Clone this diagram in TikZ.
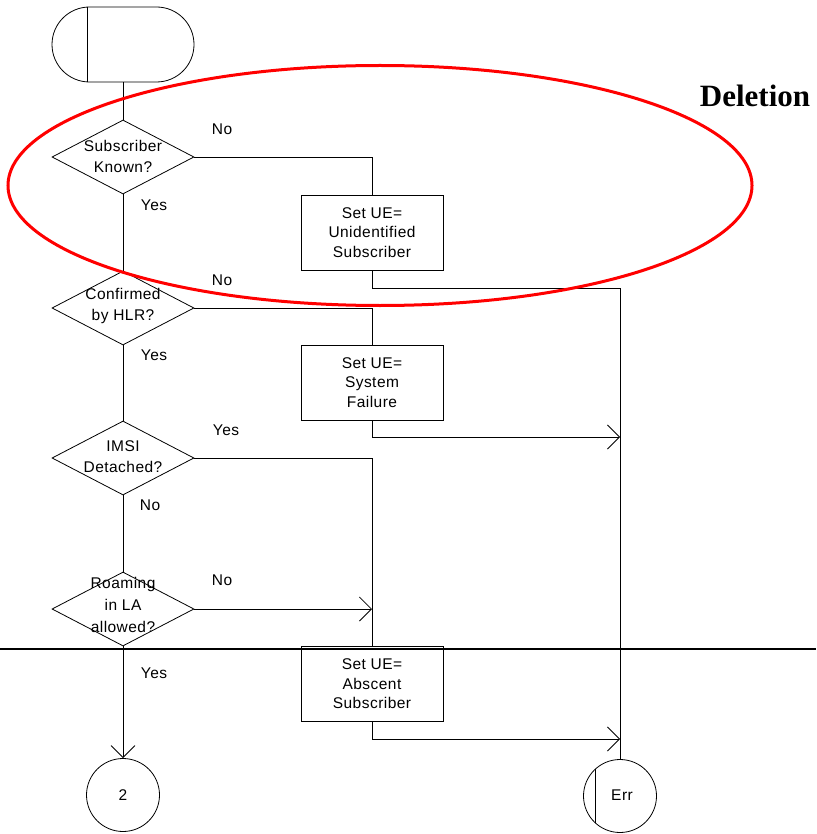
\documentclass[tikz,border=0pt]{standalone}
\usepackage{fontspec}
\setmainfont{Liberation Sans}[LetterSpace=3]
\newfontfamily\serifbold{Liberation Serif}
\usetikzlibrary{shapes.geometric,arrows.meta,calc}
\begin{document}
\begin{tikzpicture}[x=1pt,y=-1pt,
  line width=0.8pt,
  every node/.style={font=\fontsize{15.5}{20}\selectfont},
  dec/.style={draw, diamond, minimum width=142pt, minimum height=74pt, inner sep=0pt},
  dectext/.style={align=center, inner sep=0pt, font=\fontsize{15.5}{21}\selectfont},
  actbox/.style={draw, rectangle, minimum width=142pt, minimum height=75pt, inner sep=0pt, align=center, font=\fontsize{15.5}{19.5}\selectfont},
  conn/.style={draw, circle, minimum size=73pt, inner sep=0pt},
  lbl/.style={inner sep=0pt},
  arr/.style={-{Straight Barb[length=12pt,width=24pt,line width=0.8pt]}}
]
\useasboundingbox (0,0) rectangle (816,834);
% start terminator
\node[draw, rounded corners=37.5pt, minimum width=142pt, minimum height=75pt, inner sep=0pt] (start) at (123,44.5) {};
\draw ($(start.north west)+(36,0)$) -- ($(start.south west)+(36,0)$);
% decisions
\node[dec] (d1) at (123,157) {};
\node[dectext] (d1t) at (123,156) {Subscriber\\Known?};
\node[dec] (d2) at (123,308) {};
\node[dectext] (d2t) at (123,306) {Confirmed\\by HLR?};
\node[dec] (d3) at (123,458) {};
\node[dectext] (d3t) at (123,457) {IMSI\\Detached?};
\node[dec] (d4) at (123,609) {};
\node[dectext, font=\fontsize{15.5}{22}\selectfont] (d4t) at (123,605) {Roaming\\in LA\\allowed?};
% boxes
\node[actbox] (b1) at (372,232.5) {Set UE=\\Unidentified\\Subscriber};
\node[actbox] (b2) at (372,382.5) {Set UE=\\System\\Failure};
\node[actbox] (b3) at (372,684) {Set UE=\\Abscent\\Subscriber};
% connectors
\node[conn] (c2) at (123,795) {2};
\node[conn] (err) at (620,796) {};
\node[lbl] (errt) at (622,795) {Err};
\draw ($(err.center)+(-25,-27.3)$) -- ($(err.center)+(-25,27.3)$);
% coordinates
\coordinate (j1) at (620,288);
\coordinate (j2) at (620,437);
\coordinate (j3) at (620,739);
\coordinate (h1) at (0,649);
\coordinate (h2) at (816,649);
% flow lines
\draw (start.south) -- (d1.north);
\draw (d1.south) -- (d2.north);
\draw (d2.south) -- (d3.north);
\draw (d3.south) -- (d4.north);
\draw[arr] (d4.south) -- (c2.north);
\draw (d1.east) -| (b1.north);
\draw (d2.east) -| (b2.north);
\draw (d3.east) -| (b3.north);
\draw[arr] (d4.east) -- (d4.east -| b3.north);
\draw (b1.south) |- (j1) -- (err.north);
\draw[arr] (b2.south) |- (j2);
\draw[arr] (b3.south) |- (j3);
\draw[line width=1.6pt] (h1) -- (h2);
% labels
\node[lbl] (l1) at (222,129) {No};
\node[lbl] (l2) at (154,205) {Yes};
\node[lbl] (l3) at (222,280) {No};
\node[lbl] (l4) at (154,355) {Yes};
\node[lbl] (l5) at (226,430) {Yes};
\node[lbl] (l6) at (150,505) {No};
\node[lbl] (l7) at (222,580) {No};
\node[lbl] (l8) at (154,673) {Yes};
\node[lbl, font=\serifbold\bfseries\fontsize{31}{34}\selectfont] (title) at (755,96) {Deletion};
% red ellipse
\node[draw=red, line width=3pt, ellipse, minimum width=744pt, minimum height=240pt, inner sep=0pt] (hl) at (380,185.5) {};
\end{tikzpicture}
\end{document}
